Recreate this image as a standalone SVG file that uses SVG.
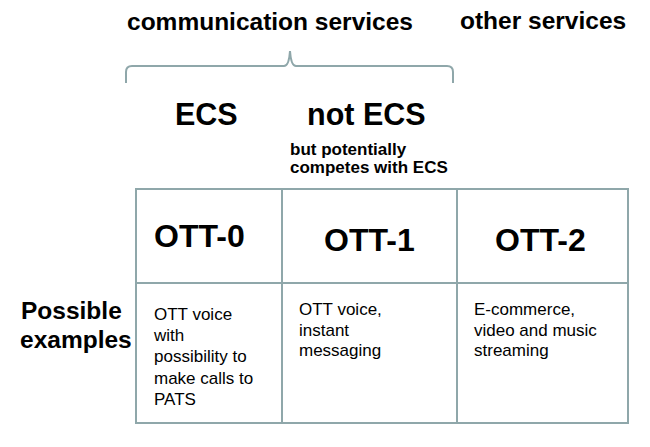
<svg xmlns="http://www.w3.org/2000/svg" width="650" height="447" viewBox="0 0 650 447">
<style>
  text { font-family: "Liberation Sans", Arial, sans-serif; fill: #000; }
  .h { font-weight: bold; font-size: 24.5px; }
  .big { font-weight: bold; font-size: 30.5px; }
  .sub { font-weight: bold; font-size: 17px; }
  .ott { font-weight: bold; font-size: 32px; }
  .cell { font-size: 17px; }
  .line { stroke: #8fa7aa; stroke-width: 2; fill: none; }
</style>
<rect width="650" height="447" fill="#fff"/>
<g id="header-comm"><text class="h" x="127" y="30">communication services</text></g>
<g id="header-other"><text class="h" x="460" y="29">other services</text></g>
<g id="brace"><path class="line" d="M126,83 L126,72 Q126,66 132,66 L284,66 Q289,66 290,51 Q291,66 296,66 L447,66 Q453,66 453,72 L453,83"/></g>
<g id="label-ecs"><text class="big" x="175" y="125">ECS</text></g>
<g id="label-notecs">
  <text class="big" x="307" y="125">not ECS</text>
  <text class="sub" x="290" y="155">but potentially</text>
  <text class="sub" x="290" y="173">competes with ECS</text>
</g>
<g id="grid">
  <rect class="line" x="136" y="189" width="492" height="234"/>
  <line class="line" x1="136" y1="283" x2="628" y2="283"/>
  <line class="line" x1="282" y1="189" x2="282" y2="423"/>
  <line class="line" x1="457" y1="189" x2="457" y2="423"/>
</g>
<g id="row-label">
  <text class="h" x="21" y="319">Possible</text>
  <text class="h" x="20" y="348">examples</text>
</g>
<g id="ott0">
  <text class="ott" x="154" y="247">OTT-0</text>
  <text class="cell" x="154" y="320">OTT voice</text>
  <text class="cell" x="154" y="341">with</text>
  <text class="cell" x="154" y="362">possibility to</text>
  <text class="cell" x="154" y="384">make calls to</text>
  <text class="cell" x="154" y="405">PATS</text>
</g>
<g id="ott1">
  <text class="ott" x="324" y="251">OTT-1</text>
  <text class="cell" x="299" y="315">OTT voice,</text>
  <text class="cell" x="299" y="336">instant</text>
  <text class="cell" x="299" y="356">messaging</text>
</g>
<g id="ott2">
  <text class="ott" x="495" y="251">OTT-2</text>
  <text class="cell" x="474" y="315">E-commerce,</text>
  <text class="cell" x="474" y="336">video and music</text>
  <text class="cell" x="474" y="356">streaming</text>
</g>
</svg>
